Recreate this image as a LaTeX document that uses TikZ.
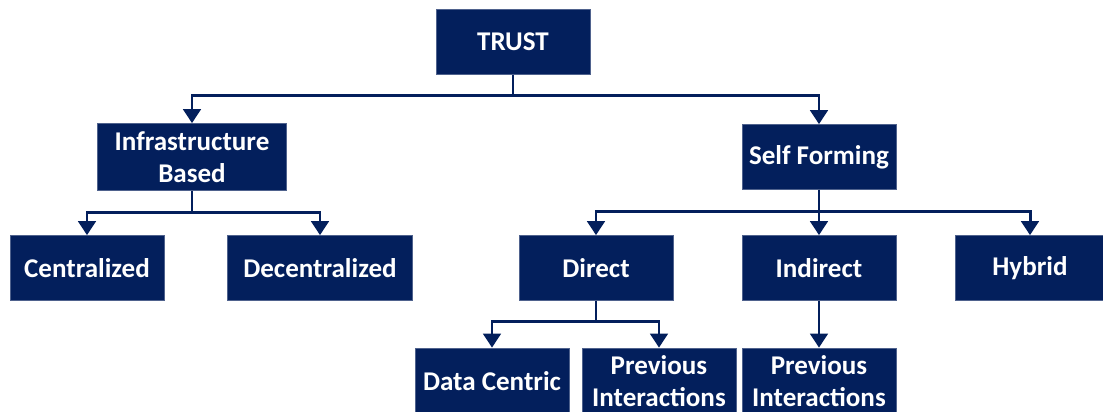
\documentclass[tikz,border=0pt]{standalone}
\usepackage{fontspec}
\setmainfont{Carlito}
\usetikzlibrary{arrows.meta}
\definecolor{navy}{HTML}{031F5C}

\tikzset{
  box/.style={fill=navy, draw=navy!70!white, line width=0.4pt, text=white,
    font=\bfseries\fontsize{15.4pt}{18pt}\selectfont, align=center,
    minimum width=154*0.02cm, minimum height=65*0.02cm, inner sep=1pt},
  link/.style={draw=navy, line width=1.7pt,
    -{Triangle[width=10pt,length=8pt]}},
}

\begin{document}
\begin{tikzpicture}[x=0.02cm, y=-0.02cm]
			%%%%% START %%%%%
			\useasboundingbox (0,0) rectangle (1103,412);
			
			\node[box] (trust) at (513, 42) {TRUST};
			
			\node[box, minimum width=189*0.02cm, minimum height=67*0.02cm] (infra) at (192, 157) {Infrastructure\\Based};
			\node[box] (self) at (819, 157) {Self Forming};
			
			\node[box] (central) at (87, 268) {Centralized};
			\node[box, minimum width=185*0.02cm] (decentral) at (320, 268) {Decentralized};
			
			\node[box] (direct) at (596, 268) {Direct};
			\node[box] (indirect) at (819, 268) {Indirect};
			\node[box, minimum width=150*0.02cm] (hybrid) at (1030, 268) {Hybrid};
			
			\node[box, minimum height=66*0.02cm] (datac) at (492, 381) {Data Centric};
			\node[box, minimum height=66*0.02cm] (prevd) at (659, 381) {Previous\\Interactions};
			\node[box, minimum height=66*0.02cm] (previ) at (819, 381) {Previous\\Interactions};
			
			% level 1
			\draw[link] (trust.south) -- ++(0, 21) -| (infra.north);
			\draw[link] (trust.south) -- ++(0, 21) -| (self.north);
			
			% level 2
			\draw[link] (infra.south) -- ++(0, 22) -| (central.north);
			\draw[link] (infra.south) -- ++(0, 22) -| (decentral.north);
			\draw[link] (self.south) -- ++(0, 22) -| (direct.north);
			\draw[link] (self.south) -- (indirect.north);
			\draw[link] (self.south) -- ++(0, 22) -| (hybrid.north);
			
			% level 3
			\draw[link] (direct.south) -- ++(0, 21) -| (datac.north);
			\draw[link] (direct.south) -- ++(0, 21) -| (prevd.north);
			\draw[link] (indirect.south) -- (previ.north);
			
			%%%%% END %%%%%
		\end{tikzpicture}
\end{document}
